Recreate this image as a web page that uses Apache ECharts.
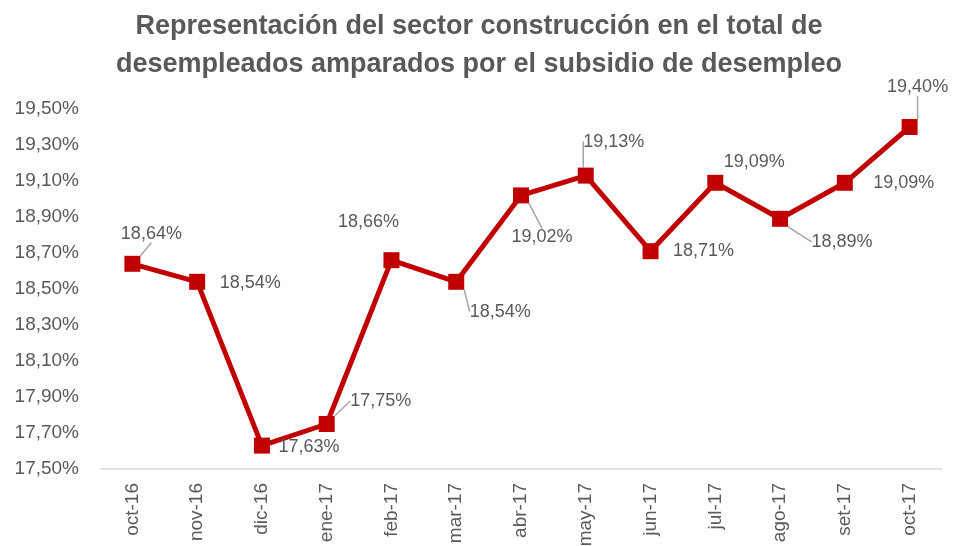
<!DOCTYPE html>
<html>
<head>
<meta charset="utf-8">
<script src="https://cdn.jsdelivr.net/npm/echarts@6/dist/echarts.min.js"></script>
<style>
html, body { margin: 0; padding: 0; background: #fff; }
#main { width: 958px; height: 546px; }
</style>
</head>
<body>
<div id="main"></div>
<script>
var months = ['oct-16', 'nov-16', 'dic-16', 'ene-17', 'feb-17', 'mar-17', 'abr-17',
    'may-17', 'jun-17', 'jul-17', 'ago-17', 'set-17', 'oct-17'];
var share = [18.64, 18.54, 17.63, 17.75, 18.66, 18.54, 19.02,
    19.13, 18.71, 19.09, 18.89, 19.09, 19.40];

// label offsets from each marker (px), and whether a leader line is drawn
var labelDx = [19, 53, 47, 54, -23, 44, 21, 28, 53, 39, 62, 59, 8];
var labelDy = [-30, 1, 1, -23, -38, 30, 42, -34, 0, -21, 23, 0, -40];
var leader = [true, false, false, true, false, true, true, true, false, false, true, false, true];

function pct(v) {
    return v.toFixed(2).replace('.', ',') + '%';
}

var grey = '#595959';
var chart = echarts.init(document.getElementById('main'));

var points = share.map(function (v, i) {
    return { value: v, labelLine: { show: leader[i] } };
});

chart.setOption({
    animation: false,
    textStyle: { fontFamily: 'Liberation Sans' },
    title: {
        text: 'Representación del sector construcción en el total de\ndesempleados amparados por el subsidio de desempleo',
        left: 'center',
        top: 3,
        textStyle: {
            color: grey,
            fontSize: 27,
            fontWeight: 'bold',
            lineHeight: 38,
            fontFamily: 'Liberation Sans'
        }
    },
    grid: { left: 100, right: 16, top: 109, bottom: 77, outerBoundsMode: 'none' },
    xAxis: {
        type: 'category',
        data: months,
        boundaryGap: true,
        axisLine: { lineStyle: { color: '#d9d9d9', width: 1.5 } },
        axisTick: { show: false },
        axisLabel: { rotate: 90, color: grey, fontSize: 19, margin: 14, interval: 0 }
    },
    yAxis: {
        type: 'value',
        min: 17.5,
        max: 19.5,
        interval: 0.2,
        axisLine: { show: false },
        axisTick: { show: false },
        splitLine: { show: false },
        axisLabel: {
            color: grey,
            fontSize: 19,
            margin: 21,
            formatter: function (v) { return pct(v); }
        }
    },
    series: [{
        type: 'line',
        data: points,
        symbol: 'rect',
        symbolSize: 16,
        lineStyle: { color: '#c00000', width: 5 },
        itemStyle: { color: '#c00000' },
        label: {
            show: true,
            position: 'inside',
            color: grey,
            fontSize: 18,
            formatter: function (p) { return pct(p.value); }
        },
        labelLine: {
            show: true,
            lineStyle: { color: '#a6a6a6', width: 1.5 }
        },
        labelLayout: function (p) {
            var i = p.dataIndex;
            return { dx: labelDx[i], dy: labelDy[i], hideOverlap: false };
        }
    }]
});
</script>
</body>
</html>
